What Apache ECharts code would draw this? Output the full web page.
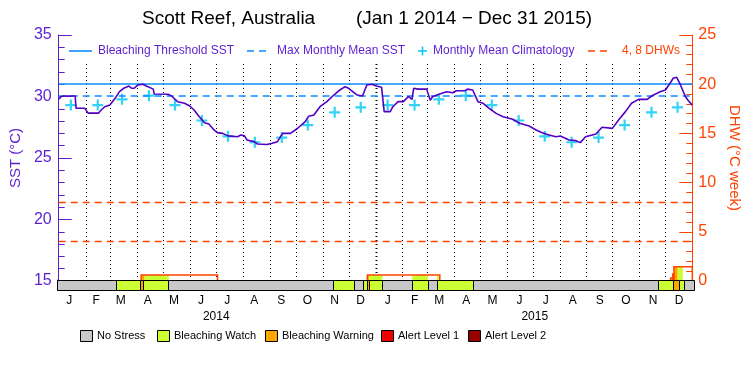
<!DOCTYPE html>
<html>
<head>
<meta charset="utf-8">
<script src="https://cdn.jsdelivr.net/npm/echarts@6/dist/echarts.min.js"></script>
<style>
  html, body { margin: 0; padding: 0; background: #fff; }
  #chart { width: 750px; height: 375px; }
</style>
</head>
<body>
<div id="chart"></div>
<script>
// month labels / lengths (2014 and 2015 are not leap years)
const monthLetters = ['J', 'F', 'M', 'A', 'M', 'J', 'J', 'A', 'S', 'O', 'N', 'D'];
const monthLengths = [31, 28, 31, 30, 31, 30, 31, 31, 30, 31, 30, 31];
const years = ['2014', '2015'];

// daily SST (day 0 = Jan 1 2014)
const sstDay = [0, 3, 6, 19, 20, 30, 34, 46, 49, 53, 59, 65, 70, 75, 81, 84, 87, 91, 97, 101,
  109, 110, 126, 130, 137, 145, 151, 156, 162, 168, 173, 179, 183, 189, 195, 206, 210, 214, 217, 225,
  229, 240, 246, 252, 258, 267, 275, 284, 288, 294, 301, 309, 317, 324, 330, 334, 336, 344, 350, 355,
  361, 366, 372, 375, 382, 385, 391, 397, 403, 407, 409, 414, 424, 428, 431, 439, 447, 454, 458, 468,
  471, 477, 483, 489, 496, 504, 512, 523, 531, 542, 550, 557, 565, 573, 578, 588, 596, 601, 607, 619,
  626, 638, 645, 653, 660, 668, 678, 683, 693, 699, 703, 708, 712, 716, 718, 722, 725, 730];
const sstVal = [29.77, 30.0, 30.04, 30.04, 29.04, 29.04, 28.65, 28.65, 28.9, 29.17, 29.3, 29.85, 30.4, 30.67, 30.85, 30.67, 30.67, 30.93, 31.0, 30.85,
  30.6, 30.2, 30.18, 30.04, 29.58, 29.45, 29.23, 28.9, 28.36, 27.87, 27.76, 27.28, 27.06, 27.0, 26.8, 26.73, 26.87, 26.8, 26.46, 26.33,
  26.14, 26.1, 26.2, 26.33, 27.0, 27.0, 27.4, 27.95, 28.4, 28.5, 29.17, 29.58, 30.12, 30.53, 30.8, 30.67, 30.67, 30.12, 30.04, 30.93,
  31.0, 30.85, 30.75, 28.77, 28.77, 29.17, 29.58, 29.58, 30.0, 29.77, 30.67, 30.6, 30.6, 29.7, 30.0, 30.2, 30.39, 30.3, 30.47, 30.47,
  30.6, 30.53, 29.58, 29.45, 29.04, 28.63, 28.36, 28.15, 27.82, 27.6, 27.28, 27.06, 26.87, 26.73, 26.79, 26.46, 26.41, 26.25, 26.73, 26.95,
  27.5, 27.41, 28.09, 28.77, 29.45, 29.77, 29.77, 30.04, 30.39, 30.53, 30.93, 31.48, 31.56, 31.0, 31.0, 30.0, 29.7, 29.3];

// monthly mean climatology (Jan..Dec), same for both years
const climatology = [29.3, 29.3, 29.77, 30.07, 29.3, 28.05, 26.76, 26.28, 26.66, 27.68, 28.71, 29.12];
const mmm = 30.07;
const bleachThreshold = 31.07;
const dhwLevels = [4, 8];

// degree heating weeks steps
const dhwStart = [95, 355.6, 705.1, 707.4, 708.8];
const dhwEnd = [183, 439.1, 707.4, 708.8, 730];
const dhwValue = [0.6, 0.6, 0.3, 0.7, 1.45];

// bleaching alert bar
const stressStart = [0, 67.6, 95, 99, 126.9, 316.6, 340.6, 351, 355.6, 357.7, 373, 407.2, 425.5, 436, 477.1, 688.2, 706.3, 713.2, 719.1];
const stressEnd = [67.6, 95, 99, 126.9, 316.6, 340.6, 351, 355.6, 357.7, 373, 407.2, 425.5, 436, 477.1, 688.2, 706.3, 713.2, 719.1, 730];
const stressLevel = [0, 1, 2, 1, 0, 1, 0, 1, 2, 1, 0, 1, 0, 1, 0, 1, 2, 1, 0];
const stressNames = ['No Stress', 'Bleaching Watch', 'Bleaching Warning', 'Alert Level 1', 'Alert Level 2'];
const stressColors = ['#c8c8c8', '#ccff33', '#ffa500', '#f00000', '#960000'];

const PURPLE = '#5b1fd0';
const LINE_PURPLE = '#5200c4';
const RED = '#ff4400';
const BLUE = '#0a8cff';
const CYAN = '#00c8f5';
const FONT = 'Liberation Sans';

// month start days across 2 years
const monthStart = [];
let acc = 0;
for (let y = 0; y < 2; y++) {
  for (let m = 0; m < 12; m++) { monthStart.push(acc); acc += monthLengths[m]; }
}
const monthMid = monthStart.map(d => d + 14);
const yearMid = [182.5, 547.5];

const climData = monthMid.map((d, i) => [d, climatology[i % 12]]);
const sstData = sstDay.map((d, i) => [d, sstVal[i]]);
const gridLineData = monthStart.slice(1).map((d, i) => [d, i + 1]);
const dhwData = dhwStart.map((s, i) => [s, dhwEnd[i], dhwValue[i]]);
const stressData = stressStart.map((s, i) => [s, stressEnd[i], stressLevel[i]]);

// alert colour under the DHW line where both exist
const fillData = [];
stressData.forEach(st => {
  if (st[2] === 0) return;
  dhwData.forEach(dh => {
    const a = Math.max(st[0], dh[0]), b = Math.min(st[1], dh[1]);
    if (b > a) fillData.push([a, b, dh[2], st[2]]);
  });
});

const chart = echarts.init(document.getElementById('chart'));

const legendTop = [
  { type: 'line', shape: { x1: 69, y1: 51, x2: 92, y2: 51 }, style: { stroke: BLUE, lineWidth: 1.6 } },
  { type: 'text', x: 98, y: 51, style: { text: 'Bleaching Threshold SST', fill: PURPLE, font: '12px ' + FONT, verticalAlign: 'middle' } },
  { type: 'line', shape: { x1: 247, y1: 51, x2: 271, y2: 51 }, style: { stroke: BLUE, lineWidth: 1.6, lineDash: [7, 5] } },
  { type: 'text', x: 277, y: 51, style: { text: 'Max Monthly Mean SST', fill: PURPLE, font: '12px ' + FONT, verticalAlign: 'middle' } },
  { type: 'line', shape: { x1: 418, y1: 51, x2: 427, y2: 51 }, style: { stroke: CYAN, lineWidth: 1.5 } },
  { type: 'line', shape: { x1: 422.5, y1: 46.5, x2: 422.5, y2: 55.5 }, style: { stroke: CYAN, lineWidth: 1.5 } },
  { type: 'text', x: 433, y: 51, style: { text: 'Monthly Mean Climatology', fill: PURPLE, font: '12px ' + FONT, verticalAlign: 'middle' } },
  { type: 'line', shape: { x1: 588, y1: 51, x2: 612, y2: 51 }, style: { stroke: RED, lineWidth: 1.3, lineDash: [7, 5] } },
  { type: 'text', x: 622, y: 51, style: { text: '4, 8 DHWs', fill: RED, font: '12px ' + FONT, verticalAlign: 'middle' } }
];

const legendX = [80, 157, 265, 381, 468];
const legendBottom = [];
stressNames.forEach((name, i) => {
  legendBottom.push({ type: 'rect', shape: { x: legendX[i] + 0.5, y: 330.5, width: 12, height: 11 }, style: { fill: stressColors[i], stroke: '#000', lineWidth: 1 } });
  legendBottom.push({ type: 'text', x: legendX[i] + 17, y: 336, style: { text: name, fill: '#000', font: '11px ' + FONT, verticalAlign: 'middle' } });
});

const option = {
  animation: false,
  backgroundColor: '#fff',
  grid: [
    { left: 57, right: 56, top: 35, height: 246 },
    { left: 57, right: 56, top: 280, height: 10 }
  ],
  graphic: [
    { type: 'text', x: 142, y: 19, style: { text: 'Scott Reef, Australia', fill: '#000', font: '19px ' + FONT, verticalAlign: 'middle' } },
    { type: 'text', x: 356, y: 19, style: { text: '(Jan 1 2014 \u2212 Dec 31 2015)', fill: '#000', font: '19px ' + FONT, verticalAlign: 'middle' } },
    ...legendTop,
    ...legendBottom
  ],
  xAxis: [
    {
      gridIndex: 0, type: 'value', min: 0, max: 730, position: 'top',
      axisLine: { show: true, lineStyle: { color: '#000', width: 1 } },
      axisTick: { show: false }, axisLabel: { show: false }, splitLine: { show: false }
    },
    {
      gridIndex: 1, type: 'value', min: 0, max: 730, position: 'bottom',
      axisLine: { show: false }, axisTick: { show: false }, splitLine: { show: false },
      axisLabel: {
        customValues: monthMid, margin: 5, color: '#000', fontSize: 12, fontFamily: FONT,
        formatter: v => monthLetters[monthMid.indexOf(v) % 12]
      }
    },
    {
      gridIndex: 1, type: 'value', min: 0, max: 730, position: 'bottom', offset: 16,
      axisLine: { show: false }, axisTick: { show: false }, splitLine: { show: false },
      axisLabel: {
        customValues: yearMid, margin: 5, color: '#000', fontSize: 12, fontFamily: FONT,
        formatter: v => years[yearMid.indexOf(v)]
      }
    }
  ],
  yAxis: [
    {
      gridIndex: 0, type: 'value', min: 15, max: 35, interval: 5, position: 'left',
      axisLine: { show: true, lineStyle: { color: PURPLE, width: 1 } },
      axisTick: { show: true, inside: true, length: 13, lineStyle: { color: PURPLE } },
      minorTick: { show: true, splitNumber: 5, length: 6, lineStyle: { color: PURPLE } },
      axisLabel: { color: PURPLE, fontSize: 16, margin: 7, fontFamily: FONT },
      splitLine: { show: false },
      name: 'SST (\u00b0C)', nameLocation: 'middle', nameGap: 33,
      nameTextStyle: { color: PURPLE, fontSize: 15, fontFamily: FONT }
    },
    {
      gridIndex: 0, type: 'value', min: 0, max: 25, interval: 5, position: 'right',
      axisLine: { show: true, lineStyle: { color: RED, width: 1 } },
      axisTick: { show: true, inside: true, length: 13, lineStyle: { color: RED } },
      minorTick: { show: true, splitNumber: 5, length: 6, lineStyle: { color: RED } },
      axisLabel: { color: RED, fontSize: 16, margin: 6, fontFamily: FONT },
      splitLine: { show: false },
      name: 'DHW (\u00b0C week)', nameLocation: 'middle', nameGap: 33, nameRotate: -90,
      nameTextStyle: { color: RED, fontSize: 15, fontFamily: FONT }
    },
    {
      gridIndex: 1, type: 'value', min: 0, max: 1, position: 'left',
      axisLine: { show: true, lineStyle: { color: PURPLE, width: 1 } },
      axisTick: { show: false }, axisLabel: { show: false }, splitLine: { show: false }
    }
  ],
  series: [
    {
      name: 'month grid', type: 'custom', xAxisIndex: 0, yAxisIndex: 0, silent: true, z: 1,
      data: gridLineData,
      renderItem: (params, api) => {
        const p1 = api.coord([api.value(0), 15]);
        const p2 = api.coord([api.value(0), 32.72]);
        const x = Math.round(p1[0]) + 0.5;
        return {
          type: 'line',
          shape: { x1: x, y1: p1[1], x2: x, y2: p2[1] },
          style: { stroke: '#000', lineWidth: api.value(1) === 12 ? 2 : 1, lineDash: [1, 3] }
        };
      }
    },
    {
      name: 'Bleaching Threshold SST', type: 'line', xAxisIndex: 0, yAxisIndex: 0,
      data: [], silent: true, color: BLUE,
      markLine: {
        silent: true, symbol: 'none', label: { show: false },
        lineStyle: { color: BLUE, width: 1.6, type: 'solid', opacity: 1 },
        data: [{ yAxis: bleachThreshold }]
      }
    },
    {
      name: 'Max Monthly Mean SST', type: 'line', xAxisIndex: 0, yAxisIndex: 0,
      data: [], silent: true, color: BLUE,
      markLine: {
        silent: true, symbol: 'none', label: { show: false },
        lineStyle: { color: BLUE, width: 1.6, type: [7, 5], opacity: 1 },
        data: [{ yAxis: mmm }]
      }
    },
    {
      name: 'alert fill', type: 'custom', xAxisIndex: 0, yAxisIndex: 1, silent: true, z: 2,
      data: fillData,
      renderItem: (params, api) => {
        const a = api.coord([api.value(0), api.value(2)]);
        const b = api.coord([api.value(1), 0]);
        return {
          type: 'rect',
          shape: { x: a[0], y: a[1], width: b[0] - a[0], height: b[1] - a[1] },
          style: { fill: stressColors[api.value(3)] }
        };
      }
    },
    {
      name: 'DHW', type: 'custom', xAxisIndex: 0, yAxisIndex: 1, silent: true, z: 3,
      data: dhwData, color: RED,
      renderItem: (params, api) => {
        const s = api.value(0), e = api.value(1), v = api.value(2);
        return {
          type: 'polyline',
          shape: { points: [api.coord([s, 0]), api.coord([s, v]), api.coord([e, v]), api.coord([e, 0])] },
          style: { stroke: RED, lineWidth: 1.5, fill: 'none' }
        };
      },
      markLine: {
        silent: true, symbol: 'none', label: { show: false },
        lineStyle: { color: RED, width: 1.3, type: [7, 5], opacity: 1 },
        data: dhwLevels.map(v => ({ yAxis: v }))
      }
    },
    {
      name: 'Monthly Mean Climatology', type: 'scatter', xAxisIndex: 0, yAxisIndex: 0, z: 4,
      symbol: 'path://M4,0h2v4h4v2h-4v4h-2v-4h-4v-2h4z', symbolSize: 11,
      itemStyle: { color: CYAN },
      data: climData
    },
    {
      name: 'SST', type: 'line', xAxisIndex: 0, yAxisIndex: 0, z: 5,
      showSymbol: false, symbol: 'none',
      lineStyle: { color: LINE_PURPLE, width: 1.6 },
      data: sstData
    },
    {
      name: 'stress', type: 'custom', xAxisIndex: 1, yAxisIndex: 2, silent: true, z: 3,
      data: stressData,
      renderItem: (params, api) => {
        const a = api.coord([api.value(0), 1]);
        const b = api.coord([api.value(1), 0]);
        return {
          type: 'rect',
          shape: { x: Math.round(a[0]) + 0.5, y: Math.round(a[1]) + 0.5, width: Math.round(b[0]) - Math.round(a[0]), height: Math.round(b[1]) - Math.round(a[1]) },
          style: { fill: stressColors[api.value(2)], stroke: '#000', lineWidth: 1 }
        };
      }
    }
  ]
};

chart.setOption(option);
</script>
</body>
</html>
